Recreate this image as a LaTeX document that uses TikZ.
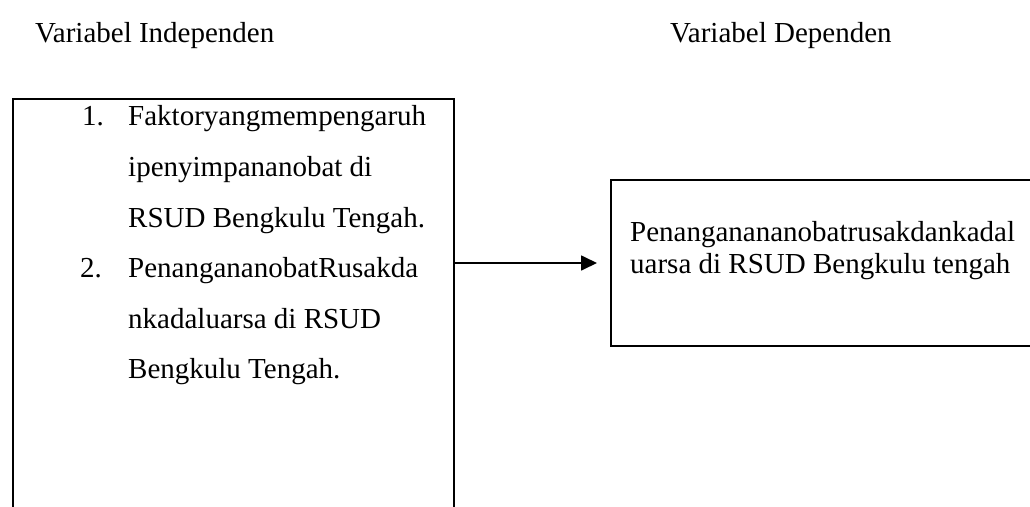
\documentclass[tikz,border=0pt]{standalone}
\usepackage{fontspec}
\setmainfont{Liberation Serif}
\usetikzlibrary{arrows.meta}
\begin{document}
\begin{tikzpicture}[x=1pt,y=-1pt,
  txt/.style={inner sep=0pt,anchor=base west,font=\fontsize{29}{35}\selectfont},
  frame/.style={draw=black,line width=1.7pt,rectangle,inner sep=0pt,anchor=north west},
  conn/.style={line width=1.7pt,-{Triangle[length=16pt,width=15pt]}}]
\useasboundingbox (0,0) rectangle (1030,506);
\clip (0,0) rectangle (1030,506);
\fill[white] (0,0) rectangle (1030,506);
% headers
\node[txt] (h1) at (35,42) {Variabel Independen};
\node[txt] (h2) at (670,42) {Variabel Dependen};
% boxes
\node[frame,minimum width=441pt,minimum height=440pt] (indep) at (12,98) {};
\node[frame,minimum width=440pt,minimum height=166pt] (dep) at (610,179) {};
% left list
\node[txt] (n1) at (82,125) {1.};
\node[txt] (l1) at (128,125) {Faktoryangmempengaruh};
\node[txt] (l2) at (128,176) {ipenyimpananobat di};
\node[txt] (l3) at (128,227) {RSUD Bengkulu Tengah.};
\node[txt] (n2) at (80,277) {2.};
\node[txt] (l4) at (128,277) {PenangananobatRusakda};
\node[txt] (l5) at (128,328) {nkadaluarsa di RSUD};
\node[txt] (l6) at (128,378) {Bengkulu Tengah.};
% right text
\node[txt] (r1) at (630,241) {Penanganananobatrusakdankadal};
\node[txt] (r2) at (630,273) {uarsa di RSUD Bengkulu tengah};
% connector
\coordinate (aend) at (597,263);
\draw[conn] (indep.east |- aend) -- (aend);
\end{tikzpicture}
\end{document}
